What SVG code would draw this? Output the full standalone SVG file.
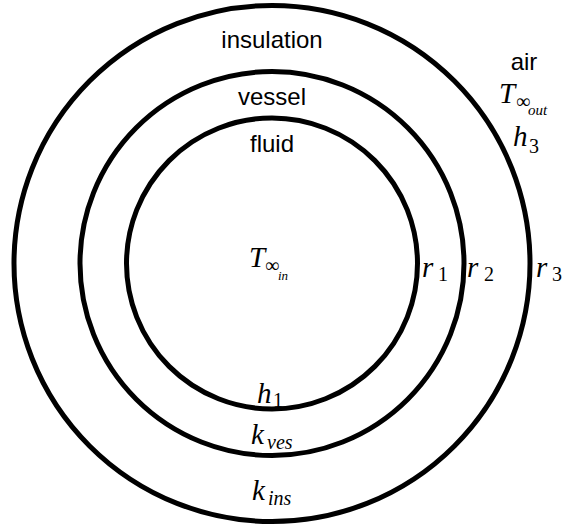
<svg xmlns="http://www.w3.org/2000/svg" width="563" height="527" viewBox="0 0 563 527">
<style>
.ring{fill:none;stroke:#000;stroke-width:5}
.lbl{font-family:"Liberation Sans",Arial,sans-serif;font-size:24px;fill:#000;text-anchor:middle}
.m{font-family:"Liberation Serif","Times New Roman",serif;font-style:italic;font-size:29px;fill:#000}
.sub{font-family:"Liberation Serif","Times New Roman",serif;font-size:20px;fill:#000}
.isub{font-family:"Liberation Serif","Times New Roman",serif;font-style:italic;fill:#000}
</style>
<rect width="563" height="527" fill="#fff"/>
<g id="insulation">
<circle class="ring" cx="272" cy="263.5" r="258"/>
<text class="lbl" x="272" y="48">insulation</text>
<text class="m" x="252" y="500">k</text><text class="isub" font-size="20" x="268" y="505">ins</text>
<text class="m" x="536" y="277">r</text><text class="sub" x="552" y="281">3</text>
</g>
<g id="vessel">
<circle class="ring" cx="272" cy="263.5" r="192"/>
<text class="lbl" x="272" y="105">vessel</text>
<text class="m" x="251" y="444">k</text><text class="isub" font-size="20" x="267" y="449">ves</text>
<text class="m" x="467" y="277">r</text><text class="sub" x="484" y="281">2</text>
</g>
<g id="fluid">
<circle class="ring" cx="272" cy="263.5" r="145.5"/>
<text class="lbl" x="272" y="152">fluid</text>
<text class="m" x="249" y="267">T</text><text class="sub" font-size="18" x="265" y="272">∞</text><text class="isub" font-size="13" x="278" y="280">in</text>
<text class="m" x="257" y="403">h</text><text class="sub" x="273" y="407">1</text>
<text class="m" x="422" y="277">r</text><text class="sub" x="438" y="281">1</text>
</g>
<g id="air">
<text class="lbl" x="524" y="70">air</text>
<text class="m" x="499" y="103">T</text><text class="sub" font-size="18" x="516" y="108">∞</text><text class="isub" font-size="15" x="528" y="115">out</text>
<text class="m" x="513" y="146">h</text><text class="sub" x="529" y="153">3</text>
</g>
<g id="connectors"></g>
</svg>
